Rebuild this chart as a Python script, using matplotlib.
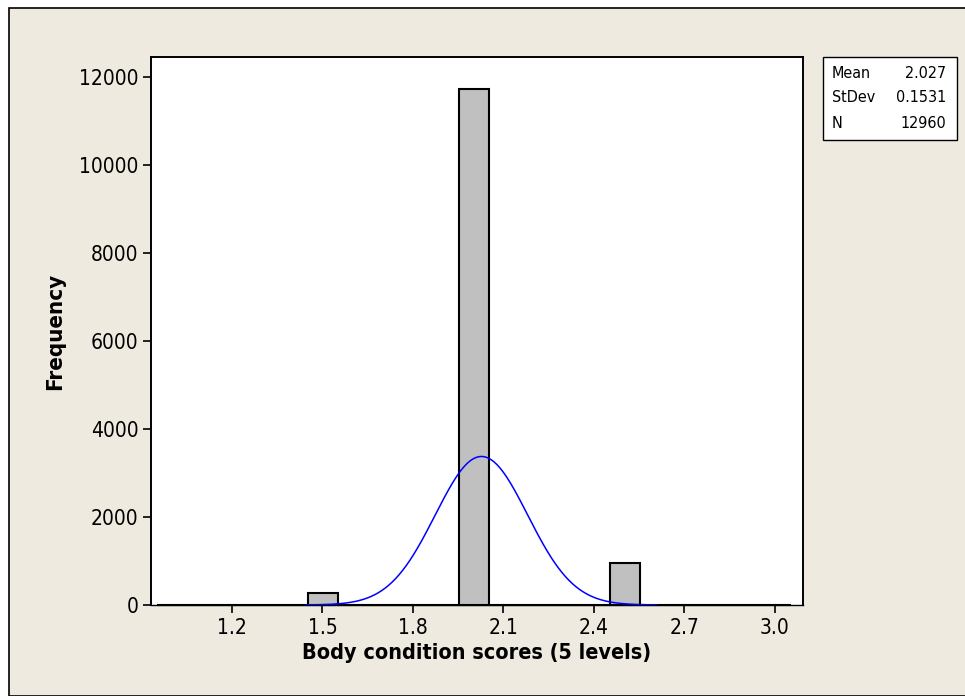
import numpy as np
import matplotlib
matplotlib.use("Agg")
import matplotlib.pyplot as plt
from matplotlib.patches import Rectangle

# Data
levels = [1.0, 1.5, 2.0, 2.5, 3.0]
counts = [2, 265, 11729, 959, 5]
mean_val = 2.027
std_val = 0.1531
n_val = 12960
bin_width = 0.1
xticks = [1.2, 1.5, 1.8, 2.1, 2.4, 2.7, 3.0]
yticks = [0, 2000, 4000, 6000, 8000, 10000, 12000]

FONT = dict(family="DejaVu Sans", stretch="condensed")

fig = plt.figure(figsize=(9.65, 6.96), dpi=100)
fig.patch.set_facecolor("white")
# beige panel with border
fig.patches.append(Rectangle((9/965, 0), 1, 1 - 8/696, transform=fig.transFigure,
                             facecolor="#EEEAE0", edgecolor="black", linewidth=1.2, zorder=-10))

ax = fig.add_axes([151/965, 1 - 605/696, (803-151)/965, (605-57)/696])
ax.set_zorder(1)
ax.set_facecolor("white")

# bins spanning the whole range, empty bins have zero height
centers = np.round(np.arange(levels[0], levels[-1] + bin_width/2, bin_width), 2)
heights = [counts[levels.index(c)] if c in levels else 0 for c in centers]
ax.bar(centers + 0.003, heights, width=bin_width, color="#C0C0C0", edgecolor="black",
       linewidth=1.5, zorder=2, clip_on=False)

# normal fit curve
xs = np.linspace(mean_val - 3.8*std_val, mean_val + 3.8*std_val, 400)
ys = n_val * bin_width / (std_val * np.sqrt(2*np.pi)) * np.exp(-0.5*((xs - mean_val)/std_val)**2)
ax.plot(xs, ys, color="#0000FF", linewidth=1.1, zorder=3)

ax.set_xlim(0.9315, 3.093)
ax.set_ylim(0, 12460)
ax.set_xticks(xticks)
ax.set_xticklabels([f"{t:.1f}" for t in xticks], fontsize=15, **FONT)
ax.set_yticks(yticks)
ax.set_yticklabels([str(t) for t in yticks], fontsize=15, **FONT)
ax.tick_params(axis="both", direction="out", length=6, width=1.2, color="black", pad=3)
for name, s in ax.spines.items():
    s.set_linewidth(1.0 if name == "bottom" else 1.4)
    s.set_color("black")

ax.set_xlabel("Body condition scores (5 levels)", fontsize=15.5, fontweight="bold", labelpad=4, **FONT)
ax.set_ylabel("Frequency", fontsize=16, fontweight="bold", labelpad=10, **FONT)

# stats box
bx0, by0, bx1, by1 = 823/965, 1 - 140/696, 957/965, 1 - 57/696
fig.patches.append(Rectangle((bx0, by0), bx1 - bx0, by1 - by0, transform=fig.transFigure,
                             facecolor="white", edgecolor="black", linewidth=1.0, zorder=5))
rows = [("Mean", f"{mean_val:.3f}"), ("StDev", f"{std_val:.4f}"), ("N", f"{n_val}")]
for i, (lab, val) in enumerate(rows):
    yy = 1 - (73 + i*25)/696
    fig.text(832/965, yy, lab, fontsize=11.5, va="center", ha="left", zorder=6, **FONT)
    fig.text(946/965, yy, val, fontsize=11.5, va="center", ha="right", zorder=6, **FONT)

fig.savefig("out.png", dpi=100)
